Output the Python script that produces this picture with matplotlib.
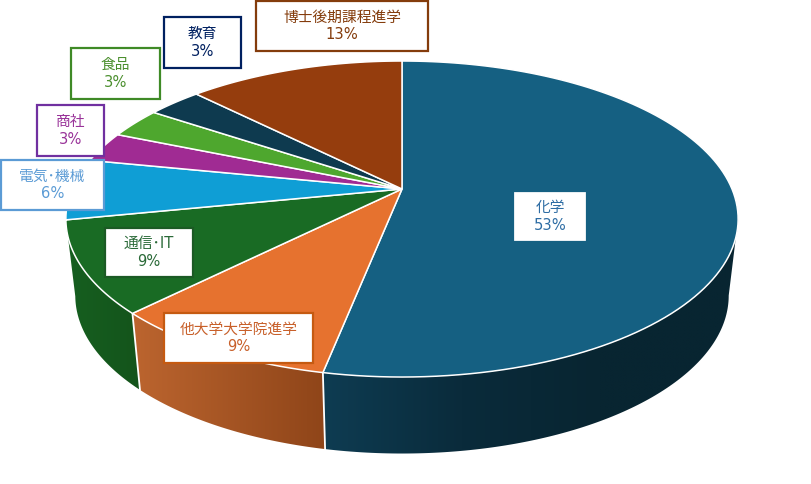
import numpy as np
import matplotlib
matplotlib.use("Agg")
import matplotlib.pyplot as plt
from matplotlib.colors import LinearSegmentedColormap
from matplotlib.patches import Polygon, Rectangle

plt.rcParams['font.family'] = ['DejaVu Sans', 'Noto Sans CJK JP']

# counts, clockwise from 12 o'clock
names = ['化学', '他大学大学院進学', '通信･IT', '電気･機械', '商社', '食品', '教育', '博士後期課程進学']
counts = [17, 3, 3, 2, 1, 1, 1, 4]
percent_labels = ['53%', '9%', '9%', '6%', '3%', '3%', '3%', '13%']

top_colors = ['#156082', '#E6722F', '#196B24', '#0F9ED5', '#A02B93', '#4EA72E', '#0E3A4F', '#953D0D']
# side gradient stops, left to right
side_colors = {
    0: ['#0E3C52', '#0A2B3B', '#082531', '#082531'],
    1: ['#BC652F', '#8F4519'],
    2: ['#165F20', '#14541B'],
}
edge_colors = ['#156082', '#C55A11', '#1B5A24', '#5B9BD5', '#7030A0', '#3F8A26', '#002060', '#843C0C']
text_colors = ['#2E6DA4', '#C8602A', '#2A6A38', '#5B9BD5', '#993399', '#4B8F2E', '#002060', '#843C0C']
# x0, y0, x1, y1 in pixels
label_boxes = [(513, 191, 587, 242), (164, 313, 313, 363), (105, 228, 193, 277), (1, 160, 104, 210),
               (37, 105, 104, 156), (71, 48, 160, 99), (164, 17, 241, 68), (256, 1, 428, 51)]

CX, CY = 402, 189
A, B, K = 330, 152.3, 0.19
DEPTH = 76.5
SHRINK = 0.972


def top_xy(theta):
    # perspective projection of the unit circle, theta clockwise from top
    u, v = np.sin(theta), np.cos(theta)
    w = 1 + K * v
    return CX + A * u / w, CY - B * v / w


def bottom_xy(theta):
    x, y = top_xy(theta)
    return CX + SHRINK * (x - CX), y + DEPTH


fig = plt.figure(figsize=(8.12, 4.84), dpi=100)
ax = fig.add_axes([0, 0, 1, 1])
ax.set_xlim(0, 812)
ax.set_ylim(484, 0)
ax.axis('off')

edges = np.cumsum([0] + counts) / sum(counts) * 2 * np.pi
tan_r, tan_l = np.arccos(-K), 2 * np.pi - np.arccos(-K)

# sides first, with horizontal gradients
for i, stops in side_colors.items():
    a0, a1 = max(edges[i], tan_r), min(edges[i + 1], tan_l)
    t = np.linspace(a0, a1, 120)
    tx, ty = top_xy(t)
    bx, by = bottom_xy(t)
    xy = np.r_[np.c_[tx, ty], np.c_[bx, by][::-1]]
    poly = Polygon(xy, closed=True, fc='none', ec='none')
    ax.add_patch(poly)
    x0, x1 = xy[:, 0].min(), xy[:, 0].max()
    y0, y1 = xy[:, 1].min(), xy[:, 1].max()
    cmap = LinearSegmentedColormap.from_list('side%d' % i, stops)
    im = ax.imshow(np.linspace(0, 1, 256).reshape(1, -1), cmap=cmap, extent=(x0, x1, y1, y0),
                   aspect='auto', zorder=1, interpolation='bilinear')
    im.set_clip_path(poly)

ax.set_xlim(0, 812)
ax.set_ylim(484, 0)

# white seams on the side
for a in edges[1:3]:
    tx, ty = top_xy(a)
    bx, by = bottom_xy(a)
    ax.plot([tx, bx], [ty, by], color='white', lw=1.3, zorder=2)

# top face
for i in range(len(counts)):
    t = np.linspace(edges[i], edges[i + 1], 120)
    tx, ty = top_xy(t)
    xy = np.r_[[[CX, CY]], np.c_[tx, ty]]
    ax.add_patch(Polygon(xy, closed=True, fc=top_colors[i], ec='white', lw=1.1, zorder=3))

for i in range(len(names)):
    x0, y0, x1, y1 = label_boxes[i]
    ax.add_patch(Rectangle((x0, y0), x1 - x0, y1 - y0, fc='white', ec=edge_colors[i], lw=1.6, zorder=4))
    ax.text((x0 + x1) / 2, (y0 + y1) / 2, names[i] + '\n' + percent_labels[i], color=text_colors[i],
            fontsize=10.6, ha='center', va='center', linespacing=1.2, zorder=5)

fig.savefig('out.png', dpi=100)
